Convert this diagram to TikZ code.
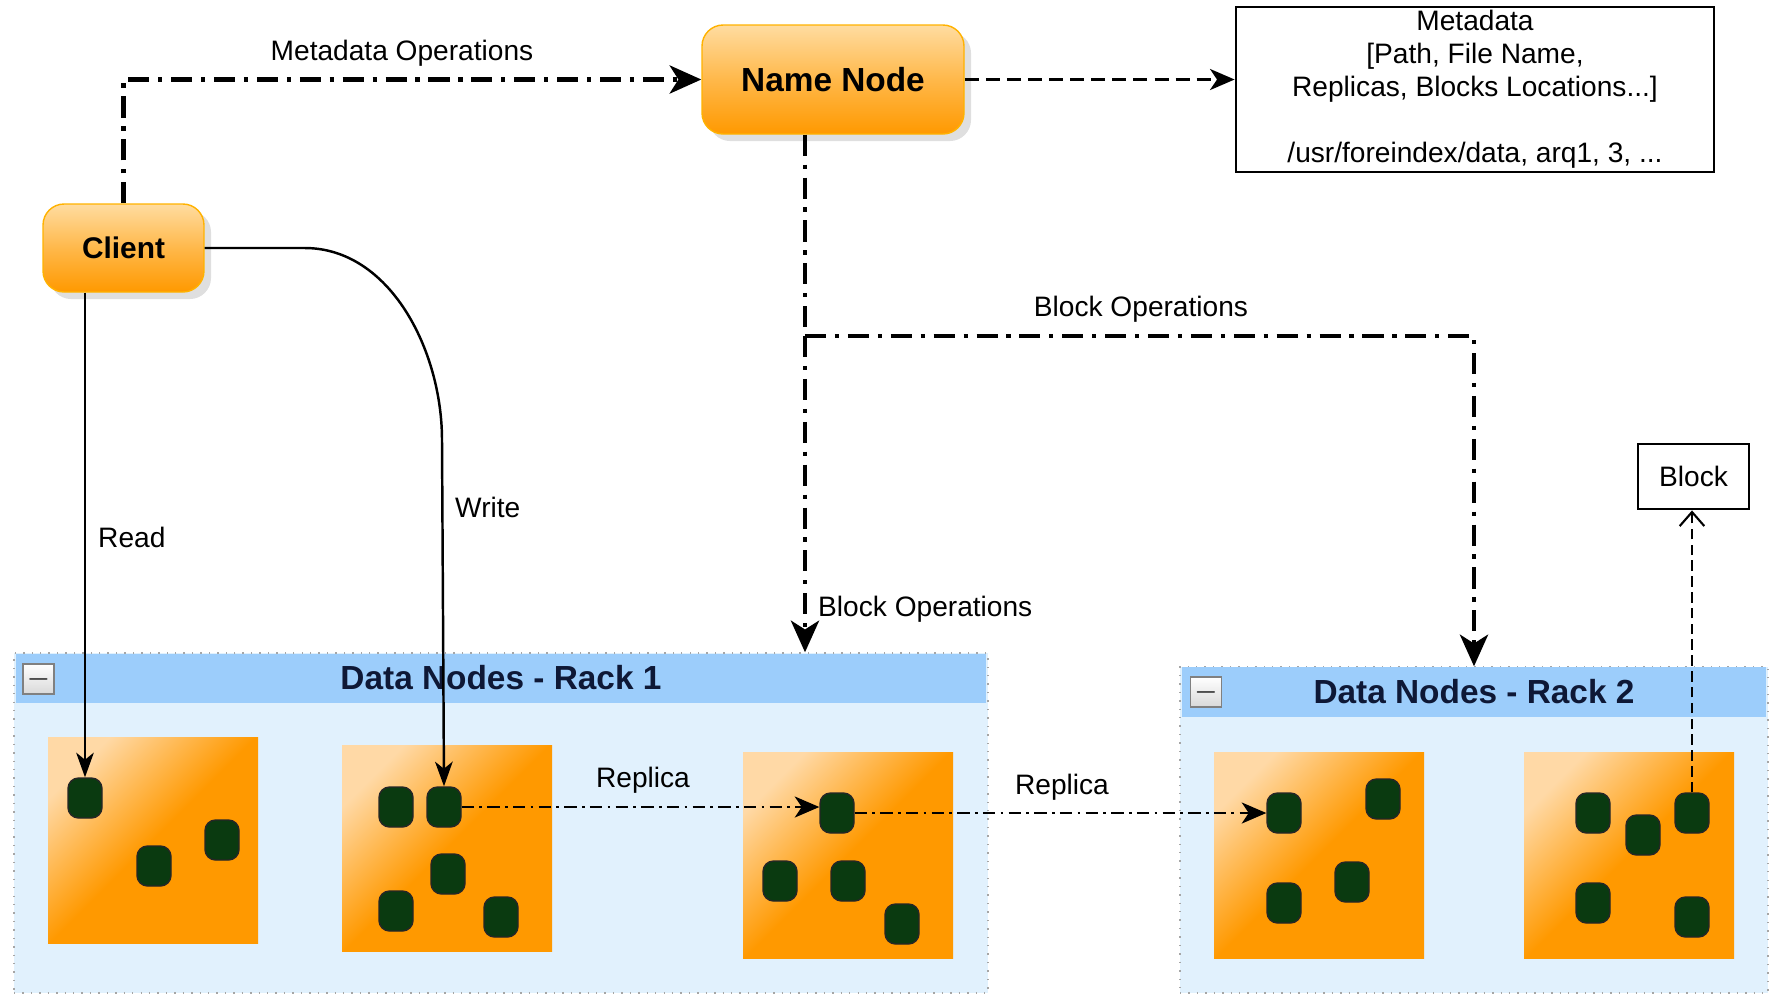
\documentclass[tikz,border=0pt]{standalone}
\usepackage{fontspec}
\setmainfont{Liberation Sans}
\usetikzlibrary{positioning, calc, arrows.meta, shadows}
\definecolor{hdfsorange}{HTML}{FF9900}
\definecolor{lightorange}{HTML}{FFDCA0}
\definecolor{midorange}{HTML}{FFB84A}
\definecolor{glossorange}{HTML}{FFD9A6}
\definecolor{rackblue}{HTML}{E1F1FD}
\definecolor{headblue}{HTML}{9CCDFB}
\definecolor{darkgreen}{HTML}{0A3A10}
\definecolor{darknavy}{HTML}{0E1836}

\begin{document}
\begin{tikzpicture}
    % Stili per i nodi e per i collegamenti
    \tikzset{
        master_node/.style={
            draw=orange!60!yellow, % Bordo chiaro
            top color=lightorange,
            bottom color=hdfsorange,
            middle color=midorange,
            rounded corners=6pt,
            drop shadow={opacity=0.25, shadow xshift=2pt, shadow yshift=-2pt},
            inner sep=0pt, % Nessuno spazio extra
            font=\bfseries\fontsize{9.5}{11}\selectfont
        },
        server_box/.style={
            top color=glossorange,
            bottom color=hdfsorange,
            middle color=hdfsorange,
            shading angle=45, % Riflesso in alto a sinistra
            minimum width=2.1cm,
            minimum height=2.06cm,
            inner sep=0pt
        },
        data_block/.style={
            draw=black!85,
            fill=darkgreen,
            rounded corners=3pt,
            minimum width=0.34cm,
            minimum height=0.40cm,
            inner sep=0pt
        },
        rack_box/.style={
            draw=gray!70, % Bordo puntinato
            dotted,
            fill=rackblue,
            inner sep=0pt
        },
        rack_header/.style={
            fill=headblue,
            text=darknavy,
            inner sep=0pt,
            font=\bfseries\fontsize{9.5}{11}\selectfont
        },
        collapse_btn/.style={
            draw=gray,
            top color=white,
            bottom color=gray!30,
            minimum width=0.31cm,
            minimum height=0.30cm,
            inner sep=0pt,
            font=\bfseries\footnotesize
        },
        info_box/.style={
            draw=black,
            thick,
            align=center,
            inner sep=0pt,
            font=\fontsize{8}{9.4}\selectfont
        },
        op_label/.style={
            inner sep=1pt,
            font=\fontsize{8}{9.6}\selectfont
        },
        ops_line/.style={
            line width=1.3pt,
            dash pattern=on 6pt off 2.5pt on 1.2pt off 2.5pt,
            -{Stealth[length=9pt,width=8pt,inset=2.5pt]}
        },
        replica_line/.style={
            line width=0.6pt,
            dash pattern=on 3.5pt off 1.5pt on 0.8pt off 1.5pt,
            -{Stealth[length=7pt,width=6pt,inset=2pt]}
        },
        io_line/.style={
            line width=0.7pt,
            -{Stealth[length=7pt,width=5pt,inset=2pt]}
        }
    }

    \useasboundingbox (0,0) rectangle (17.75,-9.95);

    % Rack 1
    \begin{scope}
    \node[rack_box, minimum width=9.74cm, minimum height=3.40cm] (rack1) at (5.01,-8.23) {};
    \node[rack_header, minimum width=9.70cm, minimum height=0.49cm] (rack1_header) at (5.01,-6.78) {Data Nodes - Rack 1};
    \node[collapse_btn] (rack1_btn) at (0.385,-6.79) {$-$};

    \node[server_box] (s1) at (1.53,-8.40) {};
    \node[server_box] (s2) at (4.47,-8.48) {};
    \node[server_box] (s3) at (8.48,-8.55) {};

    % Blocchi
    \node[data_block] (s1_b1) at (0.85,-7.98) {};
    \node[data_block] (s1_b2) at (1.54,-8.66) {};
    \node[data_block] (s1_b3) at (2.22,-8.40) {};

    \node[data_block] (s2_b1) at (3.96,-8.07) {};
    \node[data_block] (s2_b2) at (4.44,-8.07) {};
    \node[data_block] (s2_b3) at (4.48,-8.74) {};
    \node[data_block] (s2_b4) at (3.96,-9.11) {};
    \node[data_block] (s2_b5) at (5.01,-9.17) {};

    \node[data_block] (s3_b1) at (8.37,-8.13) {};
    \node[data_block] (s3_b2) at (7.80,-8.81) {};
    \node[data_block] (s3_b3) at (8.48,-8.81) {};
    \node[data_block] (s3_b4) at (9.02,-9.24) {};
    \end{scope}

    % Rack 2
    \begin{scope}
    \node[rack_box, minimum width=5.88cm, minimum height=3.26cm] (rack2) at (14.74,-8.30) {};
    \node[rack_header, minimum width=5.84cm, minimum height=0.50cm] (rack2_header) at (14.74,-6.92) {Data Nodes - Rack 2};
    \node[collapse_btn] (rack2_btn) at (12.06,-6.92) {$-$};

    \node[server_box] (s4) at (13.19,-8.55) {};
    \node[server_box] (s5) at (16.29,-8.55) {};

    % Blocchi
    \node[data_block] (s4_b1) at (12.84,-8.13) {};
    \node[data_block] (s4_b2) at (13.83,-7.99) {};
    \node[data_block] (s4_b3) at (13.52,-8.82) {};
    \node[data_block] (s4_b4) at (12.84,-9.03) {};

    \node[data_block] (s5_b1) at (15.93,-8.13) {};
    \node[data_block] (s5_b2) at (16.43,-8.35) {};
    \node[data_block] (s5_b3) at (16.92,-8.13) {};
    \node[data_block] (s5_b4) at (15.93,-9.03) {};
    \node[data_block] (s5_b5) at (16.92,-9.17) {};
    \end{scope}

    % Nodi principali
    \node[master_node, minimum width=2.62cm, minimum height=1.09cm] (name_node) at (8.33,-0.795) {Name Node};
    \node[master_node, minimum width=1.61cm, minimum height=0.88cm, font=\bfseries\fontsize{8.5}{10}\selectfont] (client) at (1.235,-2.48) {Client};

    \node[info_box, minimum width=4.78cm, minimum height=1.65cm] (metadata) at (14.75,-0.895)
        {Metadata\\{[}Path, File Name,\\Replicas, Blocks Locations...{]}\\[9.4pt]/usr/foreindex/data, arq1, 3, ...};
    \node[draw=black, thick, op_label, minimum width=1.11cm, minimum height=0.65cm] (block_box) at (16.935,-4.765) {Block};

    \coordinate (bo_split) at (8.05,-3.36);
    \coordinate (write_bend) at (4.42,-4.4);

    % Operazioni sui metadati
    \draw[ops_line] (client.north) |- (name_node.west);
    \node[op_label] (meta_label) at (4.02,-0.53) {Metadata Operations};
    \draw[line width=0.8pt, dash pattern=on 4pt off 2pt, -{Stealth[length=7pt,width=6pt,inset=2pt]}] (name_node.east) -- (name_node.east -| metadata.west);

    % Operazioni sui blocchi
    \draw[ops_line, -] (name_node.south -| bo_split) -- (bo_split);
    \draw[ops_line] (bo_split) -- (bo_split |- rack1.north);
    \draw[ops_line] (bo_split) -| (rack2.north);
    \node[op_label] (bo_label1) at (11.41,-3.09) {Block Operations};
    \node[op_label, anchor=west] (bo_label2) at (8.14,-6.09) {Block Operations};

    % Lettura e scrittura
    \draw[io_line] (s1_b1 |- client.south) -- (s1_b1.north);
    \node[op_label, anchor=west] (read_label) at (0.94,-5.37) {Read};
    \draw[io_line] (client.east) -- ++(1.0,0) .. controls +(0.85,0) and +(0,0.9) .. (write_bend) -- (s2_b2.north);
    \node[op_label, anchor=west] (write_label) at (4.51,-5.07) {Write};

    % Repliche
    \draw[replica_line] (s2_b2.east) -- (s2_b2.east -| s3_b1.west);
    \node[op_label] (replica_label1) at (6.43,-7.80) {Replica};
    \draw[replica_line] (s3_b1.east) -- (s4_b1.west);
    \node[op_label] (replica_label2) at (10.62,-7.87) {Replica};

    % Blocco
    \draw[line width=0.6pt, dash pattern=on 3pt off 1.5pt, -{Straight Barb[length=4pt,width=7pt]}] (s5_b3.north) -- (s5_b3.north |- block_box.south);

\end{tikzpicture}
\end{document}
